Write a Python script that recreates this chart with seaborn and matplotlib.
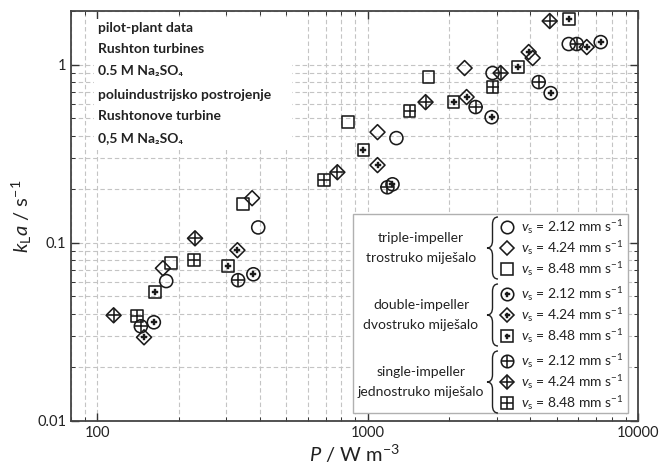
import numpy as np
import pandas as pd
import matplotlib
matplotlib.use("Agg")
import matplotlib.pyplot as plt
import seaborn as sns
from matplotlib.patches import Rectangle, PathPatch
from matplotlib.path import Path
from matplotlib.ticker import FixedLocator, FixedFormatter, LogLocator, NullFormatter

# ---------------- data ----------------
P_triple_212 = [180, 394, 1278, 2898, 5545]
k_triple_212 = [0.061, 0.122, 0.387, 0.897, 1.305]
P_triple_424 = [175, 374, 1088, 2284, 4078]
k_triple_424 = [0.072, 0.178, 0.418, 0.957, 1.089]
P_triple_848 = [188, 347, 849, 1680]
k_triple_848 = [0.077, 0.165, 0.476, 0.852]

P_double_212 = [162, 378, 1236, 2875, 4753, 7280]
k_double_212 = [0.0358, 0.0666, 0.213, 0.507, 0.692, 1.338]
P_double_424 = [149, 330, 1088, 2323, 3942, 6463]
k_double_424 = [0.0295, 0.0909, 0.273, 0.658, 1.177, 1.255]
P_double_848 = [164, 305, 965, 2079, 3589, 5545]
k_double_848 = [0.0528, 0.0738, 0.331, 0.616, 0.969, 1.80]

P_single_212 = [145, 332, 1184, 2508, 4292, 5936]
k_single_212 = [0.034, 0.0617, 0.205, 0.578, 0.798, 1.305]
P_single_424 = [115, 230, 773, 1638, 3104, 4714]
k_single_424 = [0.0392, 0.106, 0.249, 0.616, 0.897, 1.757]
P_single_848 = [140, 228, 692, 1429, 2898]
k_single_848 = [0.0387, 0.0798, 0.225, 0.549, 0.748]

impellers = ["triple", "double", "single"]
vs_values = ["2.12", "4.24", "8.48"]
group_labels = {
    "triple": ["triple-impeller", "trostruko miješalo"],
    "double": ["double-impeller", "dvostruko miješalo"],
    "single": ["single-impeller", "jednostruko miješalo"],
}
info_lines = ["pilot-plant data", "Rushton turbines", "0.5 M Na₂SO₄",
              "poluindustrijsko postrojenje", "Rushtonove turbine", "0,5 M Na₂SO₄"]
x_ticks = [100, 1000, 10000]
x_ticklabels = ["100", "1000", "10000"]
y_ticks = [0.01, 0.1, 1]
y_ticklabels = ["0.01", "0.1", "1"]

series = {
    ("triple", "2.12"): (P_triple_212, k_triple_212),
    ("triple", "4.24"): (P_triple_424, k_triple_424),
    ("triple", "8.48"): (P_triple_848, k_triple_848),
    ("double", "2.12"): (P_double_212, k_double_212),
    ("double", "4.24"): (P_double_424, k_double_424),
    ("double", "8.48"): (P_double_848, k_double_848),
    ("single", "2.12"): (P_single_212, k_single_212),
    ("single", "4.24"): (P_single_424, k_single_424),
    ("single", "8.48"): (P_single_848, k_single_848),
}
rows = []
for (imp, vs), (P, k) in series.items():
    for p, kk in zip(P, k):
        rows.append({"P": p, "kLa": kk, "impeller": imp, "vs": vs})
df = pd.DataFrame(rows)

# ---------------- style ----------------
sns.set_theme(style="ticks")
plt.rcParams["font.family"] = ["Lato", "DejaVu Sans"]
plt.rcParams["mathtext.fontset"] = "custom"
plt.rcParams["mathtext.rm"] = "Lato"
plt.rcParams["mathtext.it"] = "Lato:italic"
plt.rcParams["mathtext.bf"] = "Lato:bold"

fig = plt.figure(figsize=(6.62, 4.70), dpi=100)
ax = fig.add_axes([71 / 662, 1 - 421 / 470, (638 - 71) / 662, (421 - 11) / 470])

outer = {"2.12": ("o", 88), "4.24": ("D", 58), "8.48": ("s", 72)}
plus_size = {"2.12": 88, "4.24": 112, "8.48": 72}
LW = 1.15
INK = "#1a1a1a"

for imp in impellers:
    for vs in vs_values:
        sub = df[(df.impeller == imp) & (df.vs == vs)]
        m, s = outer[vs]
        sns.scatterplot(data=sub, x="P", y="kLa", marker=m, s=s, facecolor="none",
                        edgecolor=INK, linewidth=LW, ax=ax, zorder=4, legend=False)
        if imp == "single":
            sns.scatterplot(data=sub, x="P", y="kLa", marker="+", s=plus_size[vs],
                            color=INK, linewidth=LW, ax=ax, zorder=4, legend=False)
        elif imp == "double":
            sns.scatterplot(data=sub, x="P", y="kLa", marker="P", s=14,
                            color=INK, edgecolor=INK, linewidth=0.3, ax=ax, zorder=4,
                            legend=False)

ax.set_xscale("log")
ax.set_yscale("log")
ax.set_xlim(80, 10000)
ax.set_ylim(0.01, 2.0)

ax.xaxis.set_major_locator(FixedLocator(x_ticks))
ax.xaxis.set_major_formatter(FixedFormatter(x_ticklabels))
ax.yaxis.set_major_locator(FixedLocator(y_ticks))
ax.yaxis.set_major_formatter(FixedFormatter(y_ticklabels))
ax.xaxis.set_minor_locator(LogLocator(base=10, subs=np.arange(2, 10)))
ax.yaxis.set_minor_locator(LogLocator(base=10, subs=np.arange(2, 10)))
ax.xaxis.set_minor_formatter(NullFormatter())
ax.yaxis.set_minor_formatter(NullFormatter())

ax.tick_params(which="both", direction="in", top=True, right=True, colors="#333333",
               labelcolor="#222222", labelsize=10.5)
ax.tick_params(which="major", length=6, width=1.0)
ax.tick_params(which="minor", length=3, width=0.7)
ax.grid(True, which="both", linestyle=(0, (4, 2.5)), color="#c4c4c4", linewidth=0.8)
ax.set_axisbelow(True)
for sp in ax.spines.values():
    sp.set_color("#444444")
    sp.set_linewidth(1.3)

ax.set_xlabel(r"$P$ / W m$^{-3}$", fontsize=14.5, color="#222222", labelpad=2)
ax.set_ylabel(r"$k_\mathrm{L}a$ / s$^{-1}$", fontsize=14.5, color="#222222", labelpad=2)


def ax_pt(px, py):
    return ((px - 71) / 567.0, (421 - py) / 410.0)


# ---------------- info box (top-left) ----------------
x0, y0 = ax_pt(94, 150)
x1, y1 = ax_pt(292, 19)
ax.add_patch(Rectangle((x0, y0), x1 - x0, y1 - y0, transform=ax.transAxes,
                       facecolor="white", edgecolor="none", zorder=2))
for txt, py in zip(info_lines, [28, 49, 71, 95, 116, 138]):
    tx, ty = ax_pt(98, py)
    ax.text(tx, ty, txt, transform=ax.transAxes, fontsize=10, fontweight="bold",
            color="#222222", va="center", ha="left", zorder=3)

# ---------------- custom legend ----------------
lx0, ly0 = ax_pt(353, 413)
lx1, ly1 = ax_pt(628, 214)
ax.add_patch(Rectangle((lx0, ly0), lx1 - lx0, ly1 - ly0, transform=ax.transAxes,
                       facecolor="white", edgecolor="#b0b0b0", linewidth=1.0, zorder=6))

row_y = {"triple": [227, 248, 269], "double": [294, 315, 336], "single": [361, 382, 403]}
leg_outer = {"2.12": ("o", 9.0), "4.24": ("D", 7.0), "8.48": ("s", 8.0)}
leg_plus = {"2.12": 9.0, "4.24": 10.6, "8.48": 8.0}
for imp in impellers:
    ys = row_y[imp]
    for vs, py in zip(vs_values, ys):
        mx, my = ax_pt(507, py)
        m, ms = leg_outer[vs]
        ax.plot([mx], [my], marker=m, ms=ms, mfc="none", mec=INK, mew=LW,
                transform=ax.transAxes, zorder=7, clip_on=False, linestyle="none")
        if imp == "single":
            ax.plot([mx], [my], marker="+", ms=leg_plus[vs], mec=INK, mew=LW,
                    transform=ax.transAxes, zorder=7, clip_on=False, linestyle="none")
        elif imp == "double":
            ax.plot([mx], [my], marker="P", ms=3.6, mfc=INK, mec=INK, mew=0.3,
                    transform=ax.transAxes, zorder=7, clip_on=False, linestyle="none")
        tx, ty = ax_pt(521, py)
        ax.text(tx, ty, r"$v_\mathrm{s}$ = " + vs + r" mm s$^{-1}$", transform=ax.transAxes,
                fontsize=10, color="#222222", va="center", ha="left", zorder=7)
    ymid = (ys[0] + ys[2]) / 2.0
    for line, dy in zip(group_labels[imp], [-10, 10]):
        gx, gy = ax_pt(421, ymid + dy)
        ax.text(gx, gy, line, transform=ax.transAxes, fontsize=10, color="#222222",
                va="center", ha="center", zorder=7)
    # brace
    bx0, _ = ax_pt(487, 0)
    bx1, _ = ax_pt(498, 0)
    bxm = (bx0 + bx1) / 2
    _, byt = ax_pt(0, ys[0] - 10)
    _, byb = ax_pt(0, ys[2] + 10)
    _, bym = ax_pt(0, ymid)
    h = 0.018
    verts = [(bx1, byt), (bxm, byt), (bxm, byt - h),
             (bxm, bym + h),
             (bxm, bym), (bx0, bym),
             (bxm, bym), (bxm, bym - h),
             (bxm, byb + h),
             (bxm, byb), (bx1, byb)]
    codes = [Path.MOVETO, Path.CURVE3, Path.CURVE3,
             Path.LINETO,
             Path.CURVE3, Path.CURVE3,
             Path.CURVE3, Path.CURVE3,
             Path.LINETO,
             Path.CURVE3, Path.CURVE3]
    ax.add_patch(PathPatch(Path(verts, codes), transform=ax.transAxes, facecolor="none",
                           edgecolor="#222222", linewidth=1.0, zorder=7, clip_on=False))

fig.savefig("out.png", dpi=100)
